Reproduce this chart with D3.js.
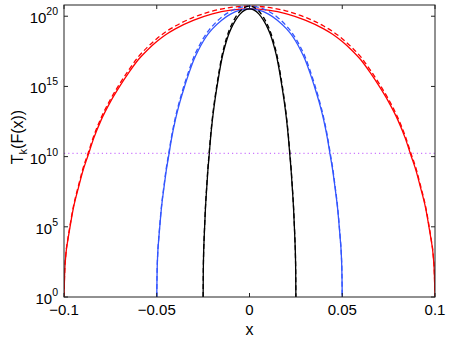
<!DOCTYPE html>
<html>
<head>
<meta charset="utf-8">
<script src="https://cdn.jsdelivr.net/npm/d3@7"></script>
<style>
  body { margin: 0; background: #fff; }
  svg { display: block; font-family: "Liberation Sans", Arial, sans-serif; }
</style>
</head>
<body>
<svg id="chart" width="450" height="339"></svg>
<script>
// normalized position along each curve (x / half width) and log10 of T_k(F(x))
const profileU = [-1, -0.997, -0.99, -0.98, -0.97, -0.95, -0.92, -0.9, -0.87, -0.84, -0.8, -0.75, -0.7, -0.65,
  -0.6, -0.55, -0.5, -0.45, -0.4, -0.3, -0.2, -0.1, 0,
  0.1, 0.2, 0.3, 0.4, 0.45, 0.5, 0.55, 0.6, 0.65, 0.7, 0.75, 0.8, 0.84, 0.87, 0.9, 0.92, 0.95, 0.97, 0.98, 0.99, 0.997, 1];
const solidLog = [0, 1.5, 3.0, 4.0, 4.8, 6.3, 7.9, 8.9, 10.1, 11.3, 12.6, 13.9, 15.0, 16.0,
  16.9, 17.6, 18.2, 18.7, 19.1, 19.72, 20.17, 20.43, 20.52,
  20.43, 20.17, 19.72, 19.1, 18.7, 18.2, 17.6, 16.9, 16.0, 15.0, 13.9, 12.6, 11.3, 10.1, 8.9, 7.9, 6.3, 4.8, 4.0, 3.0, 1.5, 0];
const dashedLog = [0, 1.55, 3.05, 4.07, 4.9, 6.4, 8.03, 9.05, 10.25, 11.45, 12.76, 14.07, 15.18, 16.19,
  17.1, 17.8, 18.4, 18.9, 19.3, 19.93, 20.37, 20.63, 20.72,
  20.63, 20.37, 19.93, 19.3, 18.9, 18.4, 17.8, 17.1, 16.19, 15.18, 14.07, 12.76, 11.45, 10.25, 9.05, 8.03, 6.4, 4.9, 4.07, 3.05, 1.55, 0];

const halfWidths = [0.1, 0.05, 0.025];
const curveColors = ['#ff0000', '#3355ff', '#000000'];

const thresholdLevel = 1.7e10;

const xTicks = [-0.1, -0.05, 0, 0.05, 0.1];
const yTickExps = [0, 5, 10, 15, 20];

const svg = d3.select('#chart');
const m = { left: 64, right: 435, top: 5, bottom: 297 };

const x = d3.scaleLinear().domain([-0.1, 0.1]).range([m.left, m.right]);
const y = d3.scaleLog().domain([1, Math.pow(10, 20.8)]).range([m.bottom, m.top]);

svg.append('defs').append('clipPath').attr('id', 'clip')
  .append('rect').attr('x', m.left).attr('y', m.top)
  .attr('width', m.right - m.left).attr('height', m.bottom - m.top);

const plot = svg.append('g').attr('clip-path', 'url(#clip)');

// threshold line
plot.append('line')
  .attr('x1', m.left).attr('x2', m.right)
  .attr('y1', y(thresholdLevel)).attr('y2', y(thresholdLevel))
  .attr('stroke', '#cc77ff').attr('stroke-width', 1.2)
  .attr('stroke-dasharray', '1.2,3');

function curvePoints(hw, logs) {
  return profileU.map((u, i) => [u * hw, Math.pow(10, logs[i])]);
}

const line = d3.line()
  .x((d) => x(d[0]))
  .y((d) => y(d[1]))
  .curve(d3.curveMonotoneX);

halfWidths.forEach((hw, i) => {
  plot.append('path')
    .attr('d', line(curvePoints(hw, dashedLog)))
    .attr('fill', 'none').attr('stroke', curveColors[i])
    .attr('stroke-width', 1.3).attr('stroke-dasharray', '5,3');
  plot.append('path')
    .attr('d', line(curvePoints(hw, solidLog)))
    .attr('fill', 'none').attr('stroke', curveColors[i])
    .attr('stroke-width', 1.3);
});

// frame and inward ticks
const axisColor = '#222';
svg.append('rect')
  .attr('x', m.left).attr('y', m.top).attr('width', m.right - m.left).attr('height', m.bottom - m.top)
  .attr('fill', 'none').attr('stroke', axisColor).attr('stroke-width', 1);

const tickLen = 4;
const ticks = svg.append('g').attr('stroke', axisColor).attr('stroke-width', 1);
xTicks.forEach((t) => {
  const px = x(t);
  ticks.append('line').attr('x1', px).attr('x2', px).attr('y1', m.bottom).attr('y2', m.bottom - tickLen);
  ticks.append('line').attr('x1', px).attr('x2', px).attr('y1', m.top).attr('y2', m.top + tickLen);
});
yTickExps.forEach((e) => {
  const py = y(Math.pow(10, e));
  ticks.append('line').attr('x1', m.left).attr('x2', m.left + tickLen).attr('y1', py).attr('y2', py);
  ticks.append('line').attr('x1', m.right).attr('x2', m.right - tickLen).attr('y1', py).attr('y2', py);
});

// tick labels
svg.append('g').selectAll('text')
  .data(xTicks)
  .enter()
  .append('text')
  .attr('x', (d) => x(d))
  .attr('y', m.bottom + 18)
  .attr('text-anchor', 'middle')
  .attr('font-size', 15)
  .attr('fill', '#000')
  .text((d) => (d < 0 ? '\u2212' + Math.abs(d) : String(d)));

const yLabels = svg.append('g').selectAll('text')
  .data(yTickExps)
  .enter()
  .append('text')
  .attr('x', m.left - 6)
  .attr('y', (d) => y(Math.pow(10, d)) + 7)
  .attr('text-anchor', 'end')
  .attr('font-size', 15)
  .attr('fill', '#000');
yLabels.append('tspan').text('10');
yLabels.append('tspan').attr('font-size', 10.5).attr('dy', -8).text((d) => d);

// axis titles
svg.append('text')
  .attr('x', x(0)).attr('y', 335)
  .attr('text-anchor', 'middle').attr('font-size', 16).attr('fill', '#000')
  .text('x');

const yTitle = svg.append('text')
  .attr('transform', 'translate(23,137) rotate(-90)')
  .attr('text-anchor', 'middle').attr('font-size', 16).attr('fill', '#000');
yTitle.append('tspan').text('T');
yTitle.append('tspan').attr('font-size', 11).attr('dy', 4).text('k');
yTitle.append('tspan').attr('dy', -4).text('(F(x))');
</script>
</body>
</html>
